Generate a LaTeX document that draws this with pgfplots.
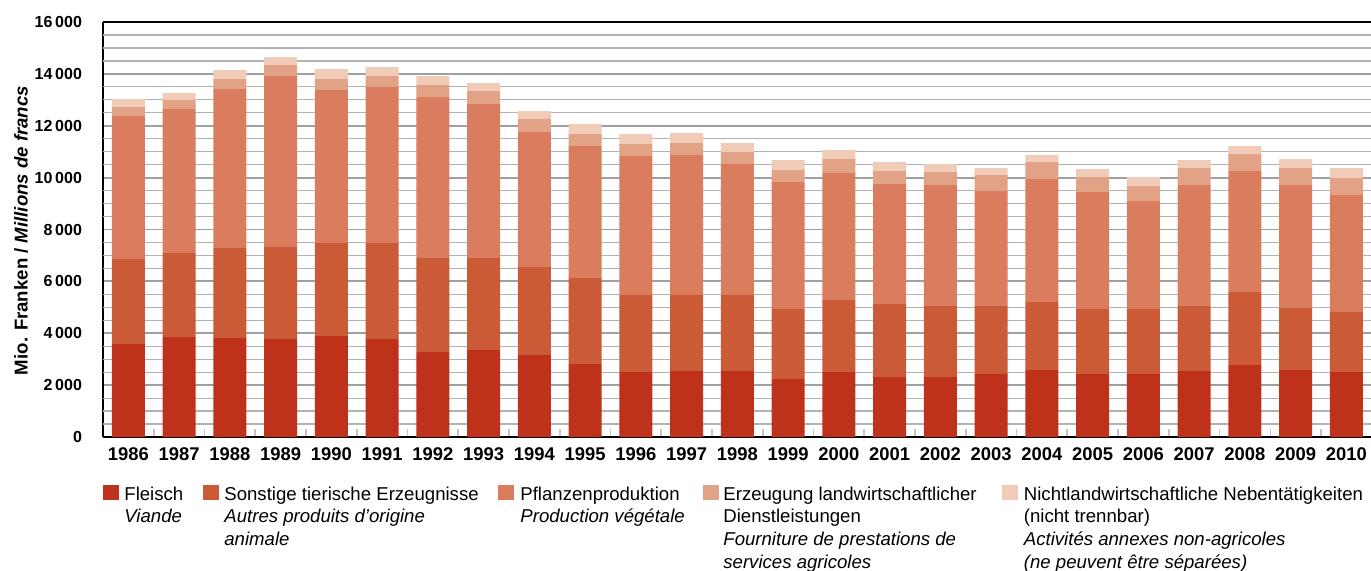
\documentclass[border=0pt]{standalone}
\usepackage{fontspec}
\setmainfont{Liberation Sans}
\usepackage{pgfplots}
\usepackage{pgfplotstable}
\pgfplotsset{compat=1.18}
\definecolor{c1}{RGB}{190,50,27}
\definecolor{c2}{RGB}{203,90,54}
\definecolor{c3}{RGB}{217,125,94}
\definecolor{c4}{RGB}{226,162,133}
\definecolor{c5}{RGB}{239,203,184}
\definecolor{gmaj}{RGB}{160,160,160}
\definecolor{gmin}{RGB}{178,178,178}
\definecolor{gtick}{RGB}{195,195,195}

\pgfplotstableread{
i  F    S    P    D   N
0  3585 3277 5513 347 308
1  3855 3238 5552 347 270
2  3817 3469 6130 385 347
3  3778 3547 6592 424 308
4  3894 3585 5898 424 386
5  3778 3701 6014 424 347
6  3277 3624 6206 463 347
7  3354 3547 5936 501 309
8  3161 3393 5204 501 309
9  2814 3316 5088 463 385
10 2506 2968 5359 462 386
11 2544 2930 5397 463 385
12 2544 2930 5050 463 347
13 2236 2698 4896 463 386
14 2506 2775 4896 540 347
15 2313 2814 4626 501 347
16 2313 2737 4665 501 308
17 2429 2621 4434 616 270
18 2583 2621 4742 655 270
19 2429 2505 4511 578 308
20 2429 2505 4164 578 347
21 2544 2506 4665 655 309
22 2776 2814 4664 656 308
23 2583 2390 4742 655 347
24 2506 2313 4510 656 385
}\datatable

\begin{document}
\begin{tikzpicture}
\path[use as bounding box] (0pt,0pt) rectangle (685.5pt,285pt);
\begin{axis}[
  at={(51.5pt,66.5pt)}, anchor=south west,
  scale only axis, width=634.4pt, height=207.5pt,
  ybar stacked, bar width=16.5pt,
  xmin=-0.5, xmax=24.5, ymin=0, ymax=16000,
  axis x line*=box, axis y line*=left,
  axis line style={black, line width=1pt},
  xtick={0,...,24},
  xticklabels={1986,1987,1988,1989,1990,1991,1992,1993,1994,1995,1996,1997,1998,1999,2000,2001,2002,2003,2004,2005,2006,2007,2008,2009,2010},
  minor xtick={0.5,1.5,...,23.5},
  ytick={0,2000,...,16000},
  extra y ticks={500,1000,1500,2500,3000,3500,4500,5000,5500,6500,7000,7500,8500,9000,9500,10500,11000,11500,12500,13000,13500,14500,15000,15500},
  extra y tick labels={},
  extra y tick style={grid=major, major grid style={draw=gmin, line width=0.6pt}},
  ymajorgrids,
  major grid style={draw=gmaj, line width=0.9pt},
  major tick length=0pt,
  minor tick length=4pt,
  tick align=inside,
  tick pos=left,
  minor tick style={draw=gtick, line width=0.8pt},
  scaled y ticks=false,
  /pgf/number format/.cd, 1000 sep={\kern0.17em}, assume math mode=true,
  /pgfplots/.cd,
  xticklabel style={font=\bfseries\fontsize{9.2}{11}\selectfont, yshift=-2pt},
  yticklabel style={font=\bfseries\fontsize{8}{10}\selectfont, xshift=-7pt},
]
\addplot[fill=c1, draw=none] table[x=i, y=F]{\datatable};
\addplot[fill=c2, draw=none] table[x=i, y=S]{\datatable};
\addplot[fill=c3, draw=none] table[x=i, y=P]{\datatable};
\addplot[fill=c4, draw=none] table[x=i, y=D]{\datatable};
\addplot[fill=c5, draw=none] table[x=i, y=N]{\datatable};
\end{axis}
% y label
\node[rotate=90, font=\bfseries\fontsize{9.3}{11}\selectfont] at (10.5pt,169.75pt)
  {Mio. Franken / \textit{Millions de francs}};
% legend
\begin{scope}[every node/.style={anchor=north west, inner sep=0pt, align=left,
   font=\fontsize{9.3}{11.3}\selectfont}]
\fill[c1] (51.5pt,42.5pt) rectangle ++(8pt,-7.5pt);
\node at (62pt,41.8pt) {Fleisch\\\textit{Viande}};
\fill[c2] (101.5pt,42.5pt) rectangle ++(8pt,-7.5pt);
\node at (112pt,41.8pt) {Sonstige tierische Erzeugnisse\\\textit{Autres produits d’origine}\\\textit{animale}};
\fill[c3] (249pt,42.5pt) rectangle ++(8pt,-7.5pt);
\node at (260pt,41.8pt) {Pflanzenproduktion\\\textit{Production végétale}};
\fill[c4] (351.5pt,42.5pt) rectangle ++(8pt,-7.5pt);
\node at (361.5pt,41.8pt) {Erzeugung landwirtschaftlicher\\Dienstleistungen\\\textit{Fourniture de prestations de}\\\textit{services agricoles}};
\fill[c5] (501pt,42.5pt) rectangle ++(8pt,-7.5pt);
\node at (511.75pt,41.8pt) {Nichtlandwirtschaftliche Nebentätigkeiten\\(nicht trennbar)\\\textit{Activités annexes non-agricoles}\\\textit{(ne peuvent être séparées)}};
\end{scope}
\end{tikzpicture}
\end{document}
